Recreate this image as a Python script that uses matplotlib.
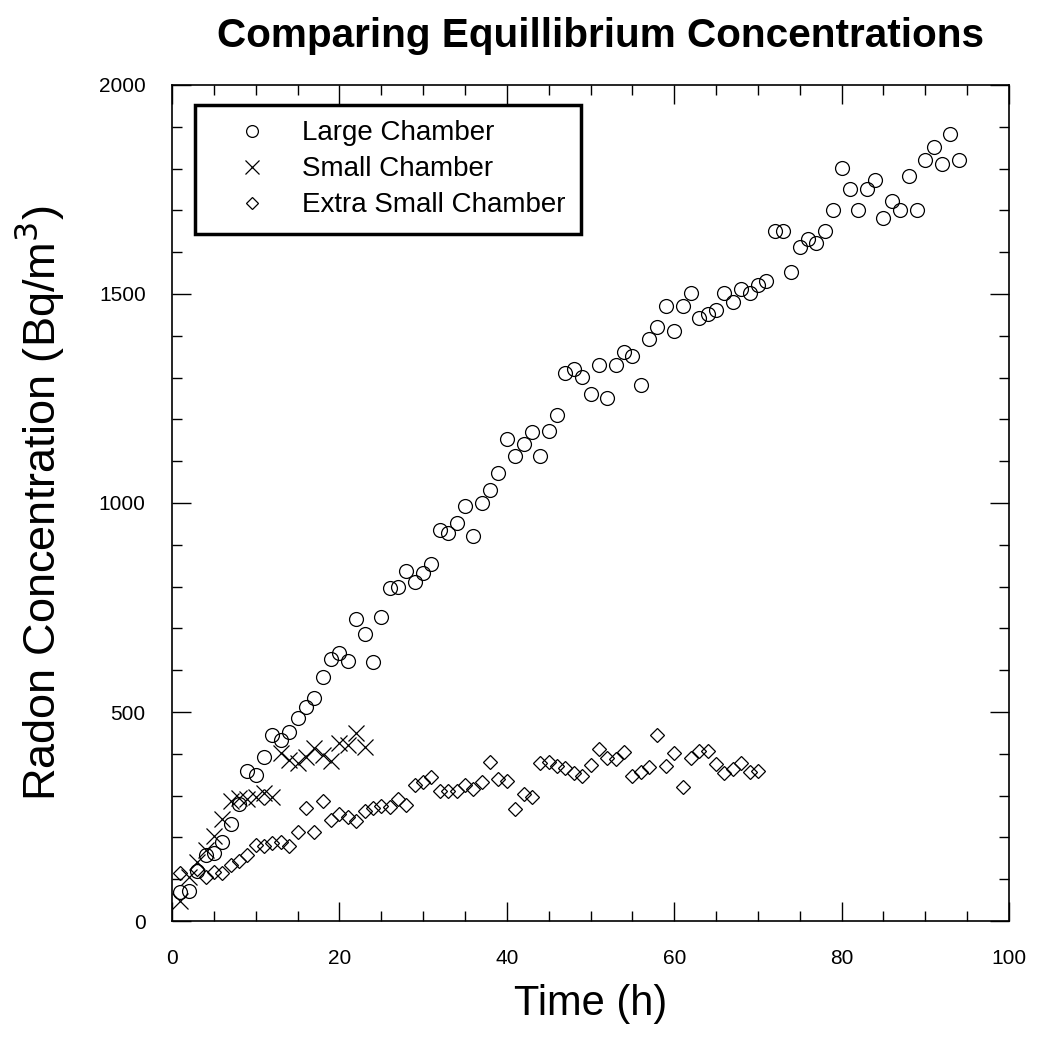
import numpy as np
import matplotlib
matplotlib.use('Agg')
import matplotlib.pyplot as plt
from matplotlib.ticker import MultipleLocator

plt.rcParams['font.family'] = ['Liberation Sans', 'DejaVu Sans']

# Large Chamber: stündliche Messwerte t = 1..94 h
large_t = np.arange(1, 95)
large_c = [70, 72, 120, 158, 163, 189, 232, 280, 359, 349,
           392, 445, 433, 452, 486, 512, 533, 584, 627, 641,
           622, 722, 687, 620, 727, 797, 799, 837, 811, 832,
           854, 935, 928, 952, 993, 921, 1000, 1031, 1072, 1153,
           1112, 1141, 1170, 1112, 1172, 1211, 1311, 1320, 1301, 1261,
           1330, 1251, 1330, 1361, 1352, 1282, 1392, 1421, 1471, 1411,
           1471, 1502, 1442, 1452, 1462, 1502, 1481, 1512, 1502, 1522,
           1531, 1651, 1651, 1553, 1612, 1632, 1622, 1651, 1701, 1801,
           1751, 1701, 1751, 1773, 1682, 1722, 1701, 1782, 1701, 1821,
           1852, 1811, 1883, 1821]

# Small Chamber: t = 1..23 h
small_t = np.arange(1, 24)
small_c = [48, 105, 141, 170, 203, 244, 288, 294, 293, 297,
           306, 297, 401, 385, 378, 392, 414, 397, 383, 426,
           421, 450, 417]

# Extra Small Chamber: t = 1, 3..70 h
xsmall_t = np.concatenate([[1], np.arange(3, 71)])
xsmall_c = [115, 124, 105, 117, 115, 135, 143, 158, 183, 179,
            187, 190, 179, 213, 271, 212, 287, 242, 255, 249,
            240, 262, 271, 275, 272, 292, 278, 326, 333, 345,
            312, 310, 310, 325, 317, 333, 381, 339, 336, 268,
            305, 297, 377, 381, 372, 366, 354, 348, 373, 411,
            389, 387, 405, 348, 356, 369, 445, 372, 403, 320,
            391, 407, 407, 376, 354, 363, 378, 357, 360]

fig = plt.figure(figsize=(10.37, 10.49), dpi=100)
ax = fig.add_axes([0.1659, 0.122, 0.973 - 0.1659, 0.919 - 0.122])

ax.plot(large_t, large_c, 'o', mfc='none', mec='black', ms=10, mew=0.9,
        label='Large Chamber')
ax.plot(small_t, small_c, 'x', color='black', ms=12, mew=0.9,
        label='Small Chamber')
ax.plot(xsmall_t, xsmall_c, 'D', mfc='none', mec='black', ms=7.5, mew=0.9,
        label='Extra Small Chamber')

ax.set_xlim(0, 100)
ax.set_ylim(0, 2000)
ax.xaxis.set_major_locator(MultipleLocator(20))
ax.xaxis.set_minor_locator(MultipleLocator(5))
ax.yaxis.set_major_locator(MultipleLocator(500))
ax.yaxis.set_minor_locator(MultipleLocator(100))
ax.tick_params(which='both', direction='in', top=True, right=True,
               labelsize=15, width=1)
ax.tick_params(which='major', length=14)
ax.tick_params(which='minor', length=7)
ax.tick_params(axis='x', which='major', pad=20)
ax.tick_params(axis='y', which='major', pad=19)
for s in ax.spines.values():
    s.set_linewidth(1.2)

ax.set_xlabel('Time (h)', fontsize=30, labelpad=12)
ax.set_ylabel(r'Radon Concentration (Bq/m$^3$)', fontsize=32.5, labelpad=23)
fig.text(0.5786, 0.966, 'Comparing Equillibrium Concentrations',
         fontsize=29.2, fontweight='bold', ha='center', va='center')

leg = ax.legend(loc='upper left', bbox_to_anchor=(0.0275, 0.976),
                fontsize=20, fancybox=False, framealpha=1, edgecolor='black',
                markerscale=0.85, handlelength=3.0, handletextpad=0.3,
                borderpad=0.55, labelspacing=0.36, borderaxespad=0)
leg.get_frame().set_linewidth(2.5)

fig.savefig('out.png', dpi=100)
